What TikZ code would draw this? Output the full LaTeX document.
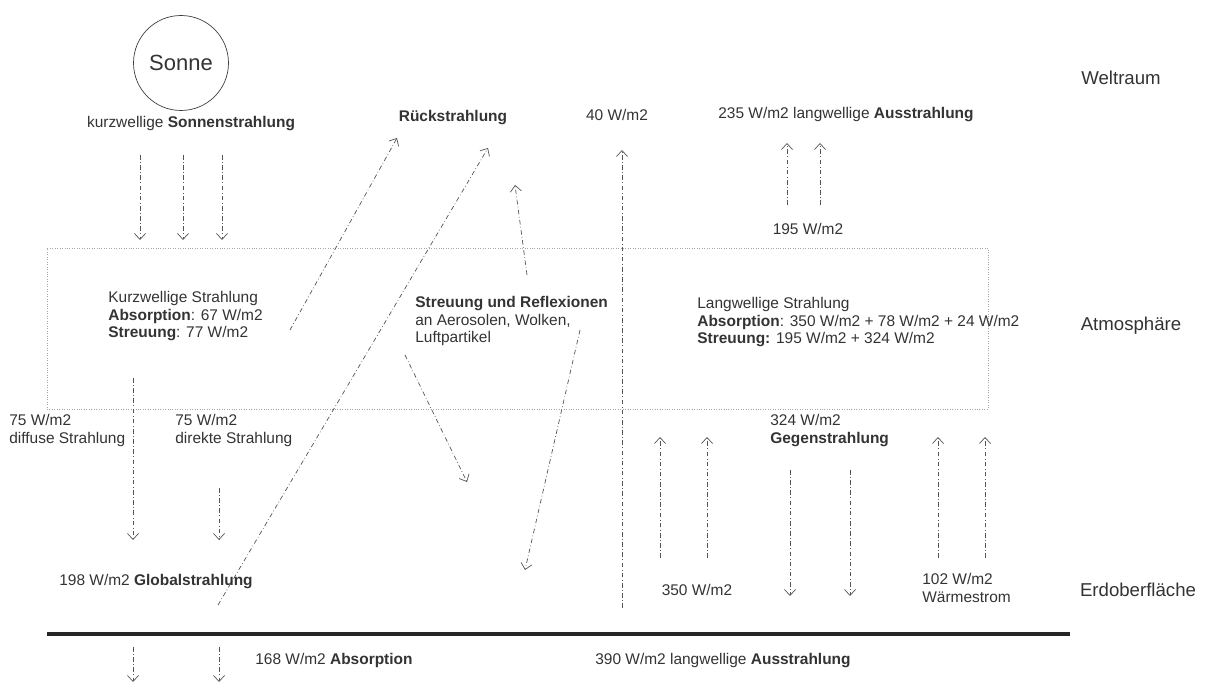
\documentclass[tikz,border=0pt]{standalone}
\usepackage{fontspec}
\setmainfont{Liberation Sans}
\usetikzlibrary{arrows.meta}
\definecolor{txt}{HTML}{333333}
\definecolor{ray}{HTML}{555555}

\begin{document}
\begin{tikzpicture}[
    every node/.style={text=txt, font=\fontsize{8.8}{10}\selectfont},
    region/.style={font=\fontsize{10.6}{13}\selectfont},
    block/.style={anchor=north west, align=left, inner sep=0pt},
    strahl/.style={draw=ray, line width=0.4pt,
        dash pattern=on 2.6pt off 1.4pt on 0.4pt off 1.4pt,
        -{Straight Barb[length=1.2mm,width=2.2mm]}},
]
\useasboundingbox (0,0) rectangle (24.3,13.68);

% Atmosphaere und Erdoberflaeche
\node[draw=gray!70, densely dotted, minimum width=18.82cm, minimum height=3.22cm, inner sep=0pt] (atmo) at (10.35,7.11) {};
\coordinate (erde-l) at (0.94,1);
\coordinate (erde-r) at (21.40,1);
\draw[line width=2pt, black!85] (erde-l) -- (erde-r);

\node[region] (weltraum) at (22.42,12.12) {Weltraum};
\node[region] (atmosphaere) at (22.62,7.16) {Atmosphäre};
\node[region] (erdoberflaeche) at (22.76,1.88) {Erdoberfläche};

% Sonne
\node[circle, draw=black!75, minimum size=1.9cm, font=\fontsize{12.5}{15}\selectfont] (sonne) at (3.62,12.42) {Sonne};
\node (sonnenstr) at (3.82,11.20) {kurzwellige \textbf{Sonnenstrahlung}};
\foreach \x/\n in {2.80/a, 3.66/b, 4.44/c} {
    \coordinate (ein-\n-o) at (\x,10.58);
    \coordinate (ein-\n-u) at (\x,8.88);
    \draw[strahl] (ein-\n-o) -- (ein-\n-u);
}

% Weltraum
\node (rueck) at (9.06,11.32) {\textbf{Rückstrahlung}};
\node (aus40) at (12.34,11.38) {40 W/m2};
\node (aus235) at (16.92,11.38) {235 W/m2 langwellige \textbf{Ausstrahlung}};
\node (str195) at (16.16,9.10) {195 W/m2};
\foreach \x/\n in {15.74/a, 16.40/b} {
    \coordinate (aus-\n-u) at (\x,9.58);
    \coordinate (aus-\n-o) at (\x,10.82);
    \draw[strahl] (aus-\n-u) -- (aus-\n-o);
}

% Atmosphaere
\node[block] (kurz) at (2.16,7.86) {Kurzwellige Strahlung\\\textbf{Absorption}: 67 W/m2\\\textbf{Streuung}: 77 W/m2};
\node[block] (streu) at (8.30,7.76) {\textbf{Streuung und Reflexionen}\\an Aerosolen, Wolken,\\Luftpartikel};
\node[block] (lang) at (13.94,7.74) {Langwellige Strahlung\\\textbf{Absorption}: 350 W/m2 + 78 W/m2 + 24 W/m2\\\textbf{Streuung:} 195 W/m2 + 324 W/m2};

\coordinate (r1-u) at (5.80,7.08);
\coordinate (r1-o) at (7.94,10.92);
\draw[strahl] (r1-u) -- (r1-o);
\coordinate (r2-u) at (4.36,1.58);
\coordinate (r2-o) at (9.76,10.72);
\draw[strahl] (r2-u) -- (r2-o);
\coordinate (r3-u) at (10.54,8.18);
\coordinate (r3-o) at (10.30,9.98);
\draw[strahl] (r3-u) -- (r3-o);
\coordinate (fenster-u) at (12.44,1.52);
\coordinate (fenster-o) at (12.44,10.68);
\draw[strahl] (fenster-u) -- (fenster-o);
\coordinate (s1-o) at (8.10,6.58);
\coordinate (s1-u) at (9.34,4.04);
\draw[strahl] (s1-o) -- (s1-u);
\coordinate (s2-o) at (11.60,7.08);
\coordinate (s2-u) at (10.50,2.28);
\draw[strahl] (s2-o) -- (s2-u);

% Bodennahe Schicht
\node[block] (diffus) at (0.18,5.40) {75 W/m2\\diffuse Strahlung};
\node[block] (direkt) at (3.50,5.40) {75 W/m2\\direkte Strahlung};
\node (global) at (3.12,2.04) {198 W/m2 \textbf{Globalstrahlung}};
\coordinate (diffus-o) at (2.66,6.12);
\coordinate (diffus-u) at (2.66,2.88);
\draw[strahl] (diffus-o) -- (diffus-u);
\coordinate (direkt-o) at (4.38,3.92);
\coordinate (direkt-u) at (4.38,2.88);
\draw[strahl] (direkt-o) -- (direkt-u);

\node[block] (gegen) at (15.40,5.40) {324 W/m2\\\textbf{Gegenstrahlung}};
\node (lang350) at (13.94,1.88) {350 W/m2};
\node[block] (waerme) at (18.44,2.22) {102 W/m2\\Wärmestrom};
\foreach \x/\n in {13.20/a, 14.14/b, 18.76/c, 19.70/d} {
    \coordinate (auf-\n-u) at (\x,2.52);
    \coordinate (auf-\n-o) at (\x,4.94);
    \draw[strahl] (auf-\n-u) -- (auf-\n-o);
}
\foreach \x/\n in {15.80/a, 17.00/b} {
    \coordinate (ab-\n-o) at (\x,4.28);
    \coordinate (ab-\n-u) at (\x,1.76);
    \draw[strahl] (ab-\n-o) -- (ab-\n-u);
}

% Boden
\node[anchor=west, inner sep=0pt] (abs168) at (5.10,0.46) {168 W/m2 \textbf{Absorption}};
\node[anchor=west, inner sep=0pt] (aus390) at (11.90,0.46) {390 W/m2 langwellige \textbf{Ausstrahlung}};
\foreach \x/\n in {2.66/a, 4.38/b} {
    \coordinate (boden-\n-o) at (\x,0.74);
    \coordinate (boden-\n-u) at (\x,0.04);
    \draw[strahl] (boden-\n-o) -- (boden-\n-u);
}
\end{tikzpicture}
\end{document}
